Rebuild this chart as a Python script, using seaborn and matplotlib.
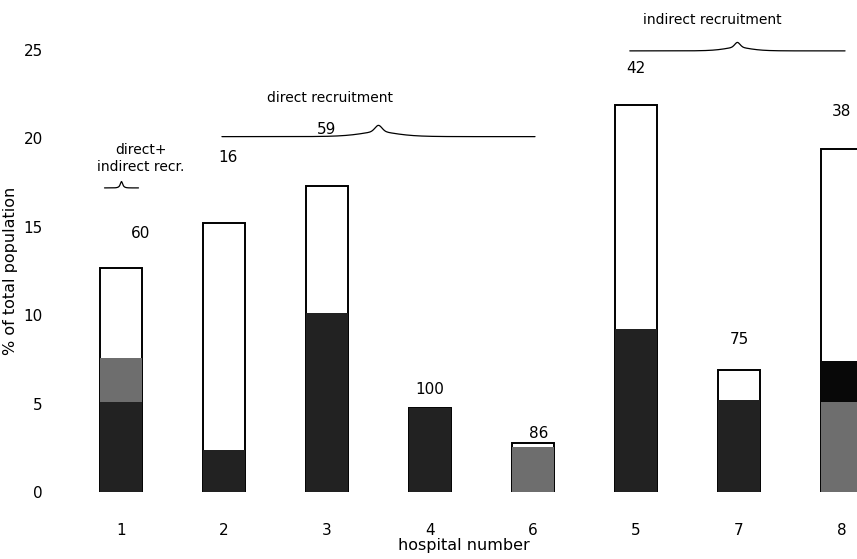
import matplotlib
matplotlib.use("Agg")
import matplotlib.pyplot as plt
import numpy as np
import pandas as pd
import seaborn as sns

# hospitals in the order they appear on the x axis
hospitals = ["1", "2", "3", "4", "6", "5", "7", "8"]
# stacked segments, % of total population
lower = [5.1, 2.4, 10.1, 4.75, 2.55, 9.2, 5.2, 5.1]
middle = [2.5, 0.0, 0.0, 0.0, 0.0, 0.0, 0.0, 2.3]
upper = [5.05, 12.8, 7.2, 0.0, 0.22, 12.7, 1.7, 12.0]
# numbers printed above the bars
bar_numbers = [60, 16, 59, 100, 86, 42, 75, 38]

sns.set_theme(style="white")
plt.rcParams["font.family"] = ["DejaVu Sans"]
for key in ["text.color", "axes.labelcolor", "xtick.color", "ytick.color"]:
    plt.rcParams[key] = "black"

df = pd.DataFrame({"hospital": hospitals, "lower": lower, "middle": middle, "upper": upper})
df["mid_top"] = df["lower"] + df["middle"]
df["total"] = df["mid_top"] + df["upper"]

DARK = "#222222"
GRAY = "#6e6e6e"
lower_colors = [DARK, DARK, DARK, DARK, GRAY, DARK, DARK, GRAY]
middle_colors = [GRAY, DARK, DARK, DARK, DARK, DARK, DARK, "#080808"]

fig = plt.figure(figsize=(8.57, 5.59), dpi=100)
ax = fig.add_axes([70 / 857, 67 / 559, 787 / 857, 442 / 559])

sns.barplot(data=df, x="hospital", y="total", order=hospitals, color="white",
            edgecolor="black", linewidth=1.4, width=0.4, ax=ax)
sns.barplot(data=df, x="hospital", y="mid_top", order=hospitals, hue="hospital",
            palette=middle_colors, legend=False, linewidth=0, width=0.4, ax=ax)
sns.barplot(data=df, x="hospital", y="lower", order=hospitals, hue="hospital",
            palette=lower_colors, legend=False, linewidth=0, width=0.4, ax=ax)

ax.set_xlim(-0.495, 7.146)
ax.set_ylim(0, 25)
ax.set_yticks([0, 5, 10, 15, 20, 25])
for s in ax.spines.values():
    s.set_visible(False)
ax.tick_params(axis="y", length=1.5, width=1, color="#555555", pad=18, labelsize=11)
ax.tick_params(axis="x", length=0, pad=22, labelsize=11)
ax.set_xlabel("hospital number", fontsize=11.5)
ax.set_ylabel("% of total population", fontsize=11.5)
ax.xaxis.set_label_coords(0.5, -0.105)
ax.yaxis.set_label_coords(-0.066, 0.5)

# label offsets (points) above each bar top
dxs = [14, 3, 0, 0, 4, 0, 0, 0]
dys = [25, 47, 41, 13, 7, 26, 22, 27]
for i, (n, tot) in enumerate(zip(bar_numbers, df["total"])):
    ax.annotate(str(n), (i, tot), xytext=(dxs[i], dys[i]), textcoords="offset points",
                ha="center", va="center", fontsize=11, annotation_clip=False)


def draw_brace(ax, x0, x1, y, h):
    xs = np.linspace(x0, x1, 300)
    mid = (x0 + x1) / 2
    half = (x1 - x0) / 2
    t = np.abs(xs - mid) / half
    k = 12
    ys = y + h * (1 / (1 + np.exp(-k * (1 - t - 0.94))) * 0.6
                  + 0.4 * np.exp(-(t * half / (0.05 * half + 0.02)) ** 2 * 4))
    ax.plot(xs, ys, color="black", lw=0.9, clip_on=False)


draw_brace(ax, -0.16, 0.17, 17.2, 0.45)
draw_brace(ax, 0.98, 4.02, 20.1, 0.8)
draw_brace(ax, 4.94, 7.03, 24.95, 0.6)

ax.text(0.19, 18.85, "direct+\nindirect recr.", ha="center", va="center",
        fontsize=10, linespacing=1.3, clip_on=False)
ax.text(2.03, 22.3, "direct recruitment", ha="center", va="center", fontsize=10, clip_on=False)
ax.text(5.74, 26.7, "indirect recruitment", ha="center", va="center", fontsize=10, clip_on=False)

fig.savefig("out.png", dpi=100)
